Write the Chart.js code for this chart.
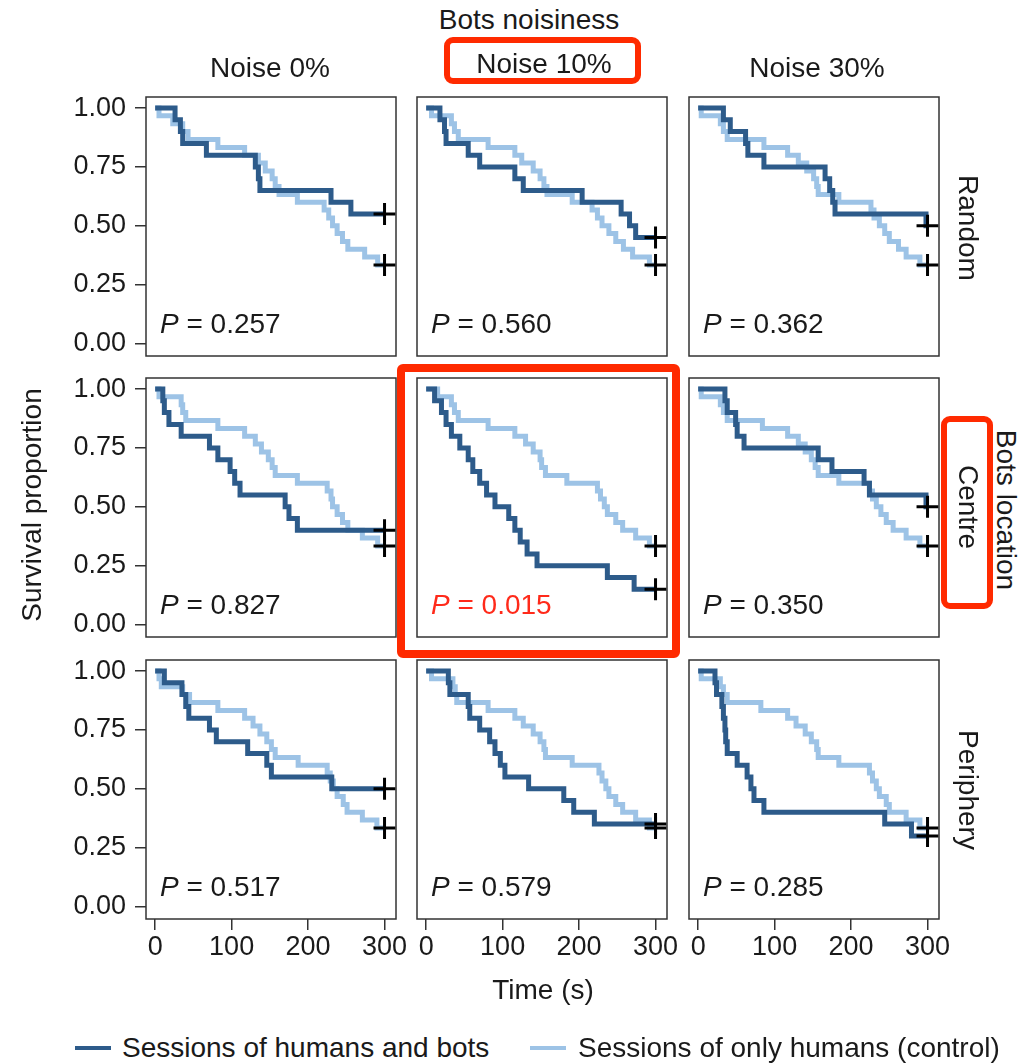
<!DOCTYPE html>
<html>
<head>
<meta charset="utf-8">
<script src="https://cdn.jsdelivr.net/npm/chart.js@4.4.1/dist/chart.umd.min.js"></script>
<style>
  body { margin: 0; background: #fff; }
  #fig { position: relative; width: 1023px; height: 1063px; overflow: hidden;
         font-family: "Liberation Sans", Arial, sans-serif; color: #1a1a1a; }
  #fig canvas { position: absolute; }
  .lbl { position: absolute; font-size: 28px; white-space: nowrap; transform: translate(-50%, -50%); }
  .down { transform: translate(-50%, -50%) rotate(90deg); }
  .up { transform: translate(-50%, -50%) rotate(-90deg); }
  .redbox { position: absolute; box-sizing: border-box; border: 6px solid #ff2a00; border-radius: 9px; z-index: 5; }
  .key { position: absolute; height: 4px; width: 36px; }
</style>
</head>
<body>
<div id="fig"></div>
<script>
// categories and tick labels
const noiseLevels = ["Noise 0%", "Noise 10%", "Noise 30%"];
const locations = ["Random", "Centre", "Periphery"];
const timeTicks = [0, 100, 200, 300];
const survTicks = [0, 0.25, 0.5, 0.75, 1];
const pValues = [
  ["0.257", "0.560", "0.362"],
  ["0.827", "0.015", "0.350"],
  ["0.517", "0.579", "0.285"]
];

// survival curves, [time (s), proportion] at each drop
const rnd0Bots = [[0,1],[26,0.95],[33,0.9],[36,0.85],[67,0.8],[131,0.75],[135,0.7],[137,0.65],[230,0.6],[256,0.55],[300,0.55]];
const rnd0Ctrl = [[0,1],[5,0.967],[23,0.933],[36,0.9],[43,0.867],[82,0.833],[117,0.8],[135,0.767],[144,0.733],[153,0.7],[157,0.667],[162,0.633],[186,0.6],[221,0.567],[227,0.533],[232,0.5],[238,0.467],[245,0.433],[252,0.4],[274,0.367],[291,0.333],[300,0.333]];
const rnd10Bots = [[0,1],[18,0.95],[24,0.9],[26,0.85],[55,0.8],[70,0.75],[116,0.7],[127,0.65],[204,0.6],[255,0.55],[266,0.5],[274,0.45],[300,0.45]];
const rnd10Ctrl = [[0,1],[7,0.967],[33,0.933],[37,0.9],[42,0.867],[81,0.833],[116,0.8],[125,0.767],[140,0.733],[149,0.7],[154,0.667],[158,0.633],[191,0.6],[217,0.567],[224,0.533],[230,0.5],[239,0.467],[248,0.433],[258,0.4],[270,0.367],[292,0.333],[300,0.333]];
const rnd30Bots = [[0,1],[33,0.95],[42,0.9],[62,0.85],[65,0.8],[86,0.75],[166,0.7],[172,0.65],[176,0.6],[179,0.55],[298,0.5],[300,0.5]];
const rnd30Ctrl = [[0,1],[4,0.967],[29,0.933],[33,0.9],[38,0.867],[86,0.833],[117,0.8],[131,0.767],[142,0.733],[151,0.7],[155,0.667],[157,0.633],[184,0.6],[226,0.567],[230,0.533],[237,0.5],[244,0.467],[250,0.433],[262,0.4],[272,0.367],[290,0.333],[300,0.333]];

const cen0Bots = [[0,1],[10,0.95],[12,0.9],[18,0.85],[34,0.8],[71,0.75],[82,0.7],[98,0.65],[104,0.6],[111,0.55],[170,0.5],[175,0.45],[186,0.4],[300,0.4]];
const cen0Ctrl = [[0,1],[5,0.967],[34,0.933],[36,0.9],[40,0.867],[82,0.833],[117,0.8],[131,0.767],[139,0.733],[148,0.7],[153,0.667],[157,0.633],[186,0.6],[225,0.567],[230,0.533],[232,0.5],[238,0.467],[245,0.433],[252,0.4],[271,0.367],[291,0.333],[300,0.333]];
const cen10Bots = [[0,1],[11,0.95],[20,0.9],[26,0.85],[33,0.8],[44,0.75],[55,0.7],[61,0.65],[70,0.6],[79,0.55],[90,0.5],[108,0.45],[116,0.4],[123,0.35],[132,0.3],[145,0.25],[237,0.2],[272,0.15],[300,0.15]];
const cen10Ctrl = [[0,1],[15,0.967],[33,0.933],[37,0.9],[42,0.867],[81,0.833],[116,0.8],[130,0.767],[140,0.733],[149,0.7],[151,0.667],[156,0.633],[184,0.6],[224,0.567],[228,0.533],[233,0.5],[237,0.467],[248,0.433],[257,0.4],[274,0.367],[292,0.333],[300,0.333]];
const cen30Bots = [[0,1],[35,0.95],[38,0.9],[49,0.85],[51,0.8],[60,0.75],[157,0.7],[175,0.65],[217,0.6],[224,0.55],[298,0.5],[300,0.5]];
const cen30Ctrl = [[0,1],[4,0.967],[29,0.933],[33,0.9],[38,0.867],[84,0.833],[117,0.8],[131,0.767],[140,0.733],[148,0.7],[153,0.667],[157,0.633],[184,0.6],[224,0.567],[228,0.533],[233,0.5],[239,0.467],[246,0.433],[255,0.4],[272,0.367],[290,0.333],[300,0.333]];

const per0Bots = [[0,1],[12,0.95],[35,0.9],[40,0.85],[44,0.8],[71,0.75],[80,0.7],[121,0.65],[146,0.6],[152,0.55],[231,0.5],[300,0.5]];
const per0Ctrl = [[0,1],[5,0.967],[8,0.933],[36,0.9],[45,0.867],[82,0.833],[117,0.8],[128,0.767],[137,0.733],[146,0.7],[152,0.667],[157,0.633],[187,0.6],[225,0.567],[229,0.533],[233,0.5],[238,0.467],[246,0.433],[251,0.4],[271,0.367],[290,0.333],[300,0.333]];
const per10Bots = [[0,1],[29,0.95],[31,0.9],[55,0.85],[57,0.8],[70,0.75],[83,0.7],[90,0.65],[97,0.6],[103,0.55],[134,0.5],[180,0.45],[193,0.4],[220,0.35],[300,0.35]];
const per10Ctrl = [[0,1],[7,0.967],[35,0.933],[38,0.9],[40,0.867],[81,0.833],[116,0.8],[127,0.767],[140,0.733],[149,0.7],[154,0.667],[156,0.633],[191,0.6],[226,0.567],[230,0.533],[235,0.5],[239,0.467],[248,0.433],[257,0.4],[274,0.367],[292,0.333],[300,0.333]];
const per30Bots = [[0,1],[22,0.95],[24,0.9],[31,0.85],[33,0.8],[35,0.75],[36,0.7],[38,0.65],[51,0.6],[64,0.55],[69,0.5],[73,0.45],[86,0.4],[244,0.35],[279,0.3],[300,0.3]];
const per30Ctrl = [[0,1],[4,0.967],[29,0.933],[33,0.9],[38,0.867],[82,0.833],[117,0.8],[128,0.767],[140,0.733],[148,0.7],[155,0.667],[157,0.633],[184,0.6],[224,0.567],[228,0.533],[233,0.5],[237,0.467],[246,0.433],[250,0.4],[272,0.367],[290,0.333],[300,0.333]];

const botsCurves = [[rnd0Bots, rnd10Bots, rnd30Bots], [cen0Bots, cen10Bots, cen30Bots], [per0Bots, per10Bots, per30Bots]];
const ctrlCurves = [[rnd0Ctrl, rnd10Ctrl, rnd30Ctrl], [cen0Ctrl, cen10Ctrl, cen30Ctrl], [per0Ctrl, per10Ctrl, per30Ctrl]];

const colorBots = "#2d5b8a";
const colorCtrl = "#9dc3e6";
const FONT = '"Liberation Sans", Arial, sans-serif';

// panel frames in page pixels
const colLeft = [146, 417, 689];
const rowTop = [97, 378, 660];
const frameW = 250, frameH = 259;
const M = 16, yAxisW = 80, xAxisH = 50;

const fig = document.getElementById("fig");

function addLabel(text, x, y, cls) {
  const d = document.createElement("div");
  d.className = "lbl" + (cls ? " " + cls : "");
  d.textContent = text;
  d.style.left = x + "px";
  d.style.top = y + "px";
  fig.appendChild(d);
}

function noPad(s) {
  s.paddingTop = 0; s.paddingBottom = 0; s.paddingLeft = 0; s.paddingRight = 0;
}

const panelPlugin = {
  id: "panel",
  afterDraw(chart, args, opts) {
    const { ctx, chartArea: a } = chart;
    ctx.save();
    ctx.strokeStyle = "#333";
    ctx.lineWidth = 1.5;
    ctx.strokeRect(a.left, a.top, a.right - a.left, a.bottom - a.top);
    ctx.fillStyle = opts.color;
    ctx.textBaseline = "alphabetic";
    const x = a.left + 14, y = a.bottom - 23;
    ctx.font = "italic 28px " + FONT;
    ctx.fillText("P", x, y);
    const w = ctx.measureText("P").width;
    ctx.font = "28px " + FONT;
    ctx.fillText(" = " + opts.p, x + w, y);
    ctx.restore();
  }
};

for (let r = 0; r < 3; r++) {
  for (let c = 0; c < 3; c++) {
    const bots = botsCurves[r][c], ctrl = ctrlCurves[r][c];
    const showY = c === 0, showX = r === 2;
    const extraL = showY ? yAxisW : 0;
    const extraB = showX ? xAxisH : 0;
    const cv = document.createElement("canvas");
    cv.width = frameW + 2 * M + extraL;
    cv.height = frameH + 2 * M + extraB;
    cv.style.left = (colLeft[c] - M - extraL) + "px";
    cv.style.top = (rowTop[r] - M) + "px";
    fig.appendChild(cv);

    new Chart(cv, {
      type: "line",
      data: {
        datasets: [
          {
            label: "censored",
            data: [bots.at(-1), ctrl.at(-1)].map(([x, y]) => ({ x, y })),
            showLine: false,
            pointStyle: "cross",
            pointRadius: 11,
            pointBorderWidth: 3,
            pointBorderColor: "#000",
            borderColor: "#000",
            clip: false
          },
          {
            label: "Sessions of humans and bots",
            data: bots.map(([x, y]) => ({ x, y })),
            borderColor: colorBots,
            borderWidth: 5,
            pointRadius: 0,
            stepped: true,
            borderCapStyle: "butt",
            borderJoinStyle: "miter"
          },
          {
            label: "Sessions of only humans (control)",
            data: ctrl.map(([x, y]) => ({ x, y })),
            borderColor: colorCtrl,
            borderWidth: 5,
            pointRadius: 0,
            stepped: true,
            borderCapStyle: "butt",
            borderJoinStyle: "miter"
          }
        ]
      },
      options: {
        responsive: false,
        animation: false,
        events: [],
        layout: { padding: M, autoPadding: false },
        plugins: {
          legend: { display: false },
          tooltip: { enabled: false },
          panel: { p: pValues[r][c], color: (r === 1 && c === 1) ? "#ff2a1a" : "#1a1a1a" }
        },
        scales: {
          x: {
            type: "linear",
            min: -12,
            max: 315,
            display: showX,
            afterBuildTicks: (s) => { s.ticks = timeTicks.map(v => ({ value: v })); },
            afterFit: (s) => { s.height = showX ? xAxisH : 0; noPad(s); },
            border: { display: false },
            grid: { drawOnChartArea: false, drawTicks: true, tickLength: 11, color: "#333", lineWidth: 1.5 },
            ticks: { autoSkip: false, maxRotation: 0, padding: 1, color: "#1a1a1a", font: { family: FONT, size: 27 } }
          },
          y: {
            type: "linear",
            min: -0.053,
            max: 1.047,
            display: showY,
            afterBuildTicks: (s) => { s.ticks = survTicks.map(v => ({ value: v })); },
            afterFit: (s) => { s.width = showY ? yAxisW : 0; noPad(s); },
            border: { display: false },
            grid: { drawOnChartArea: false, drawTicks: true, tickLength: 11, color: "#333", lineWidth: 1.5 },
            ticks: {
              padding: 9,
              color: "#1a1a1a",
              font: { family: FONT, size: 27 },
              callback: (v) => Number(v).toFixed(2)
            }
          }
        }
      },
      plugins: [panelPlugin]
    });
  }
}

// titles and facet labels
addLabel("Bots noisiness", 529, 20);
const headerX = [270, 544, 817];
noiseLevels.forEach((t, i) => addLabel(t, headerX[i], i === 1 ? 64 : 68));
const rowLabelY = [228, 507, 790];
locations.forEach((t, i) => addLabel(t, 968, rowLabelY[i], "down"));
addLabel("Bots location", 1006, 510, "down");
addLabel("Survival proportion", 32, 505, "up");
addLabel("Time (s)", 543, 990);

// legend
function addKey(color, x, text, tx) {
  const k = document.createElement("div");
  k.className = "key";
  k.style.background = color;
  k.style.left = x + "px";
  k.style.top = "1046px";
  fig.appendChild(k);
  const d = document.createElement("div");
  d.className = "lbl";
  d.textContent = text;
  d.style.left = tx + "px";
  d.style.top = "1048px";
  d.style.transform = "translate(0, -50%)";
  fig.appendChild(d);
}
addKey(colorBots, 75, "Sessions of humans and bots", 122);
addKey(colorCtrl, 530, "Sessions of only humans (control)", 578);

// red highlight boxes
function addBox(x, y, w, h, bw, rad) {
  const b = document.createElement("div");
  b.className = "redbox";
  Object.assign(b.style, { left: x + "px", top: y + "px", width: w + "px", height: h + "px",
    borderWidth: bw + "px", borderRadius: rad + "px" });
  fig.appendChild(b);
}
addBox(444, 37, 197, 47, 6, 9);
addBox(941, 416, 52, 193, 6, 9);
addBox(397, 364, 283, 294, 8, 6);
</script>
</body>
</html>
